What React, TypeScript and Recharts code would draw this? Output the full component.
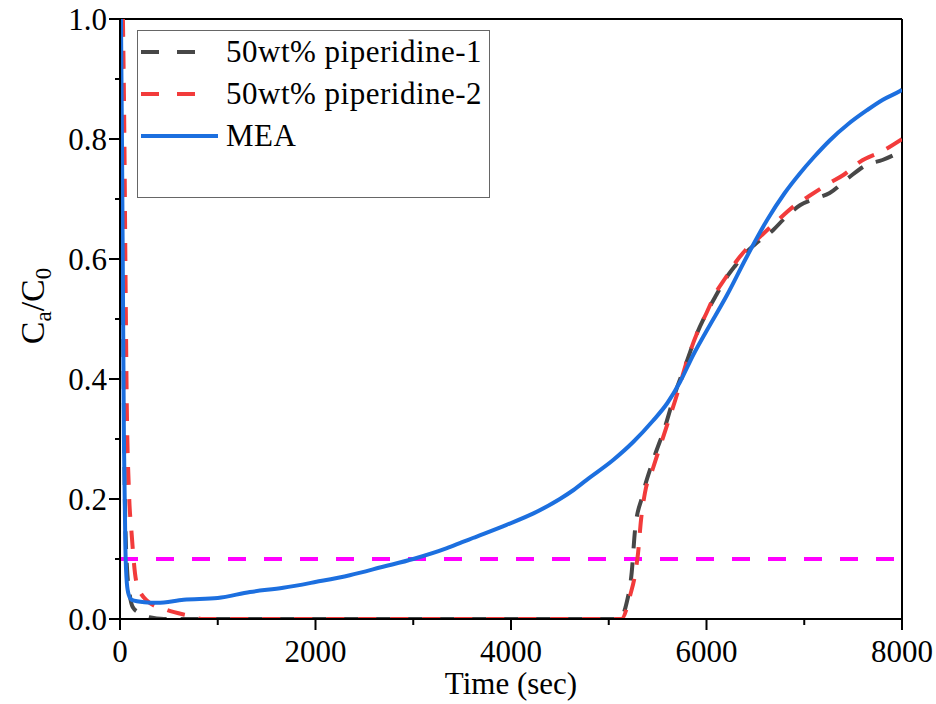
import React from 'react';
import { LineChart, Line, XAxis, YAxis, ReferenceLine, Legend, Label } from 'recharts';

// piperidine-1 (dark dashed)
const pip1Time = [10, 30, 50, 70, 100, 130, 200, 300, 450, 5110, 5180, 5235, 5270, 5340, 5455, 5575, 5680, 5800, 5900, 6000, 6100, 6200, 6300, 6400, 6500, 6680, 6800, 6960, 7100, 7260, 7450, 7640, 7800, 8000];
const pip1Vals = [1.0, 0.55, 0.2, 0.09, 0.04, 0.02, 0.01, 0.003, 0, 0, 0.025, 0.078, 0.15, 0.203, 0.265, 0.32, 0.377, 0.43, 0.475, 0.51, 0.54, 0.568, 0.59, 0.61, 0.625, 0.648, 0.668, 0.69, 0.7, 0.71, 0.735, 0.757, 0.765, 0.78];

// piperidine-2 (red dashed)
const pip2Time = [30, 45, 55, 70, 90, 120, 170, 280, 480, 720, 850, 5130, 5220, 5270, 5300, 5330, 5370, 5450, 5550, 5700, 5800, 5900, 6000, 6100, 6200, 6300, 6400, 6547, 6700, 6885, 7050, 7263, 7400, 7570, 7800, 8000];
const pip2Vals = [1.0, 0.8, 0.6, 0.35, 0.22, 0.14, 0.06, 0.03, 0.015, 0.005, 0, 0, 0.04, 0.075, 0.11, 0.165, 0.21, 0.25, 0.3, 0.375, 0.43, 0.475, 0.51, 0.545, 0.57, 0.595, 0.615, 0.637, 0.66, 0.687, 0.705, 0.727, 0.74, 0.762, 0.78, 0.8];

// MEA (blue solid)
const meaTime = [10, 20, 30, 40, 55, 70, 90, 120, 250, 380, 650, 1000, 1330, 1670, 2010, 2350, 2690, 3000, 3345, 3500, 3610, 3955, 4230, 4500, 4640, 4775, 5045, 5250, 5450, 5600, 5729, 5864, 6000, 6210, 6400, 6620, 6800, 6957, 7100, 7263, 7450, 7642, 7800, 7980, 8000];
const meaVals = [1.0, 0.8, 0.55, 0.3, 0.12, 0.06, 0.04, 0.032, 0.028, 0.027, 0.032, 0.035, 0.045, 0.052, 0.062, 0.073, 0.087, 0.1, 0.118, 0.128, 0.135, 0.157, 0.176, 0.2, 0.215, 0.232, 0.265, 0.295, 0.33, 0.36, 0.395, 0.44, 0.48, 0.54, 0.6, 0.665, 0.71, 0.743, 0.77, 0.798, 0.825, 0.848, 0.865, 0.88, 0.882];

const xTicks = [0, 1000, 2000, 3000, 4000, 5000, 6000, 7000, 8000];
const yTicks = [0, 0.1, 0.2, 0.3, 0.4, 0.5, 0.6, 0.7, 0.8, 0.9, 1.0];
const threshold = 0.1;

const toRows = (ts: number[], vs: number[]) => ts.map((t, i) => ({ t, v: vs[i] }));
const pip1Data = toRows(pip1Time, pip1Vals);
const pip2Data = toRows(pip2Time, pip2Vals);
const meaData = toRows(meaTime, meaVals);

const FONT = '"Liberation Serif", "Times New Roman", serif';
const GRAY = '#474747';
const RED = '#f23b3b';
const BLUE = '#1c6fdf';

const XTick = (props: any) => {
  const { x, y, payload } = props;
  const axisY = y - 11 - 10;
  const major = payload.value % 2000 === 0;
  return (
    <g>
      <line x1={x} y1={axisY} x2={x} y2={axisY + (major ? 11 : 6)} stroke="#000" strokeWidth={2} />
      {major && (
        <text x={x} y={y} dy="0.71em" textAnchor="middle" fontSize={31} fontFamily={FONT} fill="#000">
          {payload.value}
        </text>
      )}
    </g>
  );
};

const YTick = (props: any) => {
  const { x, y, payload } = props;
  const axisX = x + 3 + 10;
  const major = Math.round(payload.value * 10) % 2 === 0;
  return (
    <g>
      <line x1={axisX - (major ? 11 : 5)} y1={y} x2={axisX} y2={y} stroke="#000" strokeWidth={2} />
      {major && (
        <text x={x} y={y} dy="0.355em" textAnchor="end" fontSize={31} fontFamily={FONT} fill="#000">
          {payload.value.toFixed(1)}
        </text>
      )}
    </g>
  );
};

const legendItems = [
  { name: '50wt% piperidine-1', color: GRAY, dash: '18 18', len: 56 },
  { name: '50wt% piperidine-2', color: RED, dash: '18 18', len: 56 },
  { name: 'MEA', color: BLUE, dash: undefined, len: 77 },
];

const LegendBox = () => (
  <div
    style={{
      position: 'relative',
      width: 353,
      height: 168,
      boxSizing: 'border-box',
      border: '1px solid #666',
      background: '#fff',
      fontFamily: FONT,
    }}
  >
    {legendItems.map((it, i) => (
      <div key={it.name} style={{ position: 'absolute', left: 3, top: 21 + 42 * i - 20, height: 40, display: 'flex', alignItems: 'center' }}>
        <svg width={80} height={40} style={{ display: 'block' }}>
          <line x1={0} y1={20} x2={it.len} y2={20} stroke={it.color} strokeWidth={4} strokeDasharray={it.dash} />
        </svg>
        <span style={{ marginLeft: 5, fontSize: 31, letterSpacing: 0.5, color: '#000', whiteSpace: 'nowrap', lineHeight: '40px' }}>{it.name}</span>
      </div>
    ))}
  </div>
);

const YLabel = (props: any) => {
  const vb = props.viewBox || { x: 0, y: 19, width: 120, height: 600 };
  const cx = vb.x + 44;
  const cy = vb.y + vb.height / 2 - 13;
  return (
    <text x={cx} y={cy} transform={`rotate(-90, ${cx}, ${cy})`} textAnchor="middle" fontSize={34} fontFamily={FONT} fill="#000">
      C<tspan dy={7} fontSize={23}>a</tspan>
      <tspan dy={-7}>/C</tspan>
      <tspan dy={7} fontSize={23}>0</tspan>
    </text>
  );
};

const XLabel = (props: any) => {
  const vb = props.viewBox || { x: 120, y: 619, width: 782, height: 85 };
  return (
    <text x={vb.x + vb.width / 2} y={694} textAnchor="middle" fontSize={31} fontFamily={FONT} fill="#000">
      Time (sec)
    </text>
  );
};

export default function App() {
  return (
    <div style={{ position: 'absolute', left: 0, top: 0, background: '#fff' }}>
      <LineChart width={936} height={704} margin={{ top: 19, right: 34, bottom: 0, left: 0 }}>
        <XAxis
          dataKey="t"
          type="number"
          domain={[0, 8000]}
          ticks={xTicks}
          interval={0}
          allowDataOverflow
          height={85}
          tickSize={10}
          tickMargin={11}
          tickLine={false}
          tick={<XTick />}
          axisLine={{ stroke: '#000', strokeWidth: 2 }}
        >
          <Label content={<XLabel />} />
        </XAxis>
        <YAxis
          type="number"
          domain={[0, 1]}
          ticks={yTicks}
          interval={0}
          allowDataOverflow
          width={120}
          tickSize={10}
          tickMargin={3}
          tickLine={false}
          tick={<YTick />}
          axisLine={{ stroke: '#000', strokeWidth: 2 }}
        >
          <Label content={<YLabel />} />
        </YAxis>
        <ReferenceLine y={1} stroke="#000" strokeWidth={2} />
        <ReferenceLine x={8000} stroke="#000" strokeWidth={2} />
        <ReferenceLine y={threshold} stroke="#ff00ff" strokeWidth={4} strokeDasharray="18 18" />
        <Line data={pip1Data} dataKey="v" name="50wt% piperidine-1" type="monotone" stroke={GRAY} strokeWidth={4} strokeDasharray="18 14" dot={false} isAnimationActive={false} />
        <Line data={pip2Data} dataKey="v" name="50wt% piperidine-2" type="monotone" stroke={RED} strokeWidth={4} strokeDasharray="18 14" dot={false} isAnimationActive={false} />
        <Line data={meaData} dataKey="v" name="MEA" type="monotone" stroke={BLUE} strokeWidth={4} dot={false} isAnimationActive={false} />
        <Legend
          layout="horizontal"
          verticalAlign="middle"
          align="center"
          content={<LegendBox />}
          wrapperStyle={{ left: 137, top: 30, width: 353, height: 168 }}
        />
      </LineChart>
    </div>
  );
}
